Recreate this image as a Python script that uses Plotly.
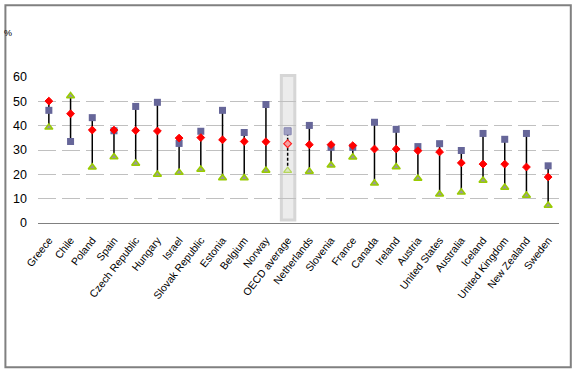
import plotly.graph_objects as go

categories = ["Greece", "Chile", "Poland", "Spain", "Czech Republic", "Hungary", "Israel",
              "Slovak Republic", "Estonia", "Belgium", "Norway", "OECD average", "Netherlands",
              "Slovenia", "France", "Canada", "Ireland", "Austria", "United States", "Australia",
              "Iceland", "United Kingdom", "New Zealand", "Sweden"]
series_square = [46.3, 33.5, 43.3, 37.9, 47.9, 49.6, 32.7, 37.7, 46.3, 37.2, 48.7, 37.7, 40.1,
                 31.1, 31.1, 41.4, 38.5, 31.4, 32.6, 29.8, 36.8, 34.4, 36.8, 23.5]
series_diamond = [50.1, 44.9, 38.2, 38.2, 38.0, 37.8, 34.9, 35.1, 34.2, 33.5, 33.4, 32.6, 32.2,
                  32.2, 31.8, 30.4, 30.4, 29.7, 29.2, 24.7, 24.2, 24.2, 23.0, 18.9]
series_triangle = [39.3, 52.2, 22.9, 27.1, 24.5, 19.9, 20.8, 22.0, 18.5, 18.5, 21.6, 21.5, 21.2,
                   23.7, 27.0, 16.3, 23.0, 18.3, 11.8, 12.6, 17.5, 14.6, 11.3, 7.2]
y_ticks = [0, 10, 20, 30, 40, 50, 60]
highlight = "OECD average"

W, H = 577, 373
L, R, T, B = 38.1, 17.8, 77.3, 149.7
pw, ph = W - L - R, H - T - B

def px_x(p):
    return (p - L) / pw

def px_y(p):
    return (H - B - p) / ph

fig = go.Figure()

hi = categories.index(highlight)
idx_main = [i for i in range(len(categories)) if i != hi]

# high-low lines
lx, ly = [], []
for i in idx_main:
    vals = [series_square[i], series_diamond[i], series_triangle[i]]
    lx += [categories[i], categories[i], None]
    ly += [min(vals), max(vals), None]
fig.add_trace(go.Scatter(x=lx, y=ly, mode="lines", line=dict(color="black", width=1.5),
                         hoverinfo="skip", showlegend=False))
hv = [series_square[hi], series_diamond[hi], series_triangle[hi]]
fig.add_trace(go.Scatter(x=[highlight, highlight], y=[min(hv), max(hv)], mode="lines",
                         line=dict(color="black", width=1.5, dash="3px,2px"),
                         hoverinfo="skip", showlegend=False))

def sub(vals, idxs):
    return [categories[i] for i in idxs], [vals[i] for i in idxs]

x, y = sub(series_triangle, idx_main)
fig.add_trace(go.Scatter(x=x, y=y, mode="markers", name="Triangle series",
                         marker=dict(symbol="triangle-up", size=7, color="#999999",
                                     line=dict(color="#99cc00", width=1.5))))
x, y = sub(series_square, idx_main)
fig.add_trace(go.Scatter(x=x, y=y, mode="markers", name="Square series",
                         marker=dict(symbol="square", size=7, color="#666699",
                                     line=dict(width=0))))
x, y = sub(series_diamond, idx_main)
fig.add_trace(go.Scatter(x=x, y=y, mode="markers", name="Diamond series",
                         marker=dict(symbol="diamond", size=6, color="#ff0000",
                                     line=dict(color="#ff0000", width=1))))

# highlighted (pattern-like, lighter) markers
fig.add_trace(go.Scatter(x=[highlight], y=[series_triangle[hi]], mode="markers", showlegend=False,
                         marker=dict(symbol="triangle-up", size=7, color="#dde8c0",
                                     line=dict(color="#b5d65a", width=1.2))))
fig.add_trace(go.Scatter(x=[highlight], y=[series_square[hi]], mode="markers", showlegend=False,
                         marker=dict(symbol="square", size=7, color="#9f9fc2",
                                     line=dict(color="#8484b0", width=1))))
fig.add_trace(go.Scatter(x=[highlight], y=[series_diamond[hi]], mode="markers", showlegend=False,
                         marker=dict(symbol="diamond", size=6, color="#f5a0a0",
                                     line=dict(color="#ff2020", width=1.2))))

shapes = [
    # highlight box
    dict(type="rect", xref="x", yref="paper", x0=hi - 0.29, x1=hi + 0.33,
         y0=px_y(220.2), y1=px_y(75.8), layer="between",
         fillcolor="#ececec", line=dict(color="#d6d6d6", width=3)),
    # outer chart border
    dict(type="rect", xref="paper", yref="paper", x0=px_x(5.5), x1=px_x(571),
         y0=px_y(367.5), y1=px_y(5.5), line=dict(color="#808080", width=2),
         fillcolor="rgba(0,0,0,0)"),
]

fig.update_layout(
    width=W, height=H,
    margin=dict(l=L, r=R, t=T, b=B, pad=0, autoexpand=False),
    paper_bgcolor="white", plot_bgcolor="white",
    showlegend=False,
    font=dict(family="Arial, Liberation Sans, sans-serif", color="black"),
    shapes=shapes,
    annotations=[dict(text="%", xref="paper", yref="paper", x=px_x(2.5), y=px_y(33.5),
                      xanchor="left", yanchor="middle", showarrow=False,
                      font=dict(size=9, color="black"))],
)
fig.update_xaxes(type="category", categoryorder="array", categoryarray=categories,
                 range=[-0.5, len(categories) - 0.5], tickangle=-52, automargin=False,
                 tickfont=dict(size=10.5, family="Arial, Liberation Sans, sans-serif"),
                 showline=True, linecolor="#808080", linewidth=1, showgrid=False,
                 ticks="", zeroline=False, ticklabelstandoff=6)
fig.update_yaxes(range=[0, 60], tickvals=y_ticks, ticktext=[str(v) for v in y_ticks],
                 tickfont=dict(size=12.5), showgrid=True, gridcolor="#c0c0c0", gridwidth=1,
                 griddash="18px,6px", zeroline=False, showline=False, ticks="",
                 ticklabelstandoff=10, automargin=False)

fig.write_html("out.html", config={"displayModeBar": False},
               post_script="document.body.style.margin='0';document.body.style.overflow='hidden';")
